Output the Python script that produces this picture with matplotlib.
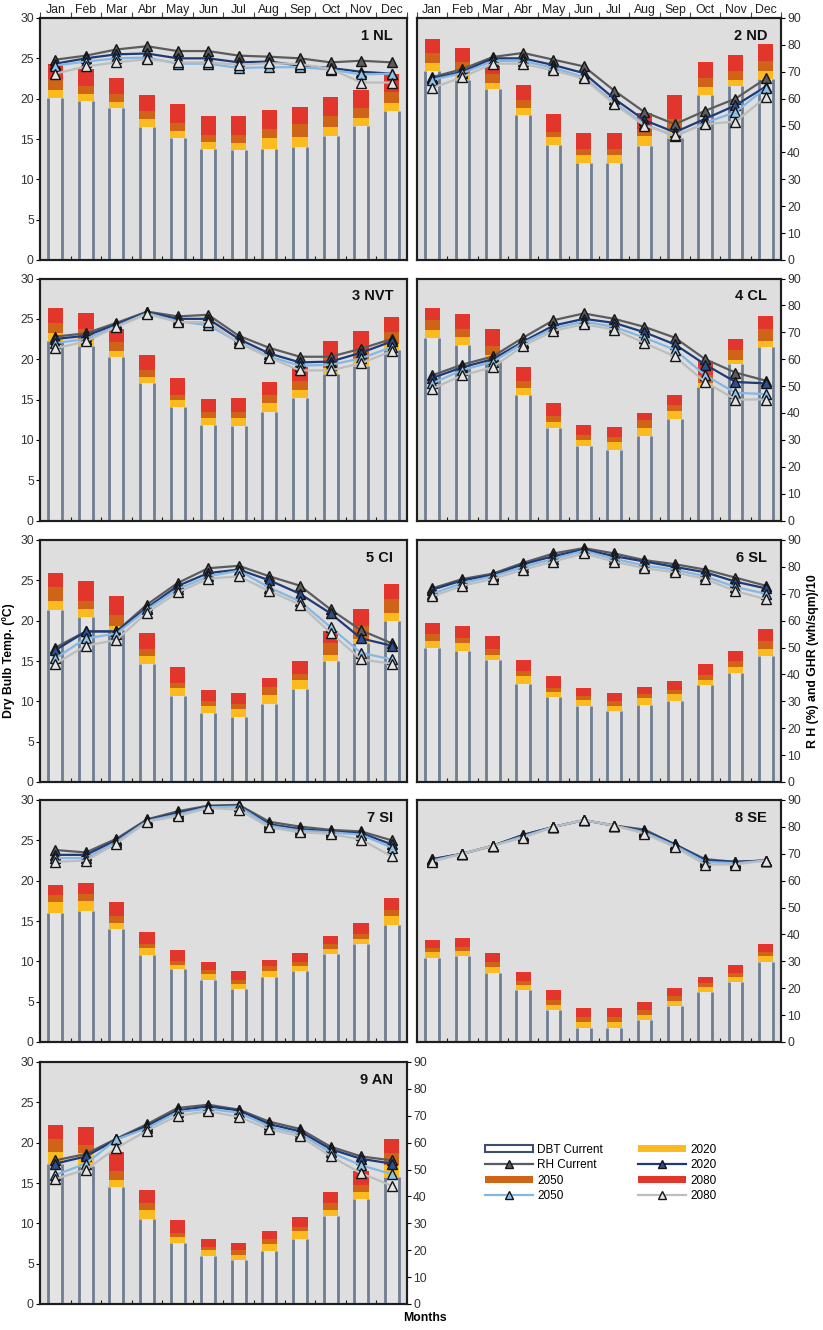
import matplotlib
matplotlib.use("Agg")
import matplotlib.pyplot as plt
from matplotlib.patches import Patch
from matplotlib.lines import Line2D
import numpy as np

plt.rcParams["font.family"] = ["Liberation Sans", "DejaVu Sans"]

MONTHS = ["Jan", "Feb", "Mar", "Abr", "May", "Jun", "Jul", "Aug", "Sep", "Oct", "Nov", "Dec"]
SCENARIOS = ["Current", "2020", "2050", "2080"]

# Dry bulb temperature (degC) per scenario: current, 2020, 2050, 2080
NL_DBT = [[20.1, 19.7, 18.8, 16.5, 15.1, 13.7, 13.6, 13.7, 14.0, 15.4, 16.6, 18.5],
          [21.1, 20.6, 19.6, 17.5, 16.0, 14.6, 14.5, 15.1, 15.3, 16.5, 17.6, 19.5],
          [22.4, 21.6, 20.6, 18.5, 17.0, 15.5, 15.5, 16.3, 16.8, 17.9, 18.8, 20.8],
          [24.3, 23.7, 22.5, 20.5, 19.4, 17.9, 17.9, 18.6, 19.0, 20.2, 21.1, 23.0]]
ND_DBT = [[23.4, 22.3, 21.2, 18.0, 14.2, 12.0, 12.0, 14.1, 15.1, 20.5, 21.6, 22.5],
          [24.4, 23.0, 21.9, 18.8, 15.2, 13.0, 13.0, 15.4, 16.3, 21.4, 22.3, 23.4],
          [25.6, 24.6, 23.1, 19.8, 15.9, 13.8, 13.8, 16.3, 17.5, 22.5, 23.4, 24.7],
          [27.4, 26.3, 24.1, 21.7, 18.1, 15.7, 15.7, 18.2, 20.5, 24.6, 25.4, 26.8]]
NVT_DBT = [[22.2, 21.6, 20.3, 17.0, 14.1, 11.9, 11.75, 13.4, 15.2, 18.2, 19.1, 21.1],
           [23.2, 22.4, 21.0, 17.8, 15.0, 12.7, 12.7, 14.6, 16.2, 18.9, 19.9, 21.9],
           [24.5, 23.8, 22.1, 18.7, 15.6, 13.4, 13.4, 15.6, 17.3, 20.1, 21.1, 23.4],
           [26.3, 25.7, 23.8, 20.5, 17.7, 15.1, 15.2, 17.2, 19.0, 22.3, 23.5, 25.2]]
CL_DBT = [[22.6, 21.8, 19.8, 15.5, 11.5, 9.2, 8.8, 10.5, 12.6, 16.5, 19.4, 21.5],
          [23.6, 22.8, 20.5, 16.4, 12.2, 10.0, 9.7, 11.5, 13.6, 17.0, 19.9, 22.3],
          [24.9, 23.8, 21.6, 17.3, 13.0, 10.6, 10.4, 12.4, 14.3, 18.0, 21.1, 23.8],
          [26.3, 25.6, 23.7, 19.0, 14.6, 11.9, 11.6, 13.3, 15.6, 19.8, 22.5, 25.3]]
CI_DBT = [[21.3, 20.5, 18.8, 14.6, 10.7, 8.6, 8.1, 9.7, 11.5, 15.0, 17.2, 19.9],
          [22.4, 21.5, 19.4, 15.6, 11.6, 9.4, 9.0, 10.8, 12.6, 15.7, 17.7, 20.9],
          [24.2, 22.5, 20.7, 16.5, 12.3, 10.0, 9.7, 11.8, 13.4, 17.2, 19.4, 22.7],
          [25.9, 24.9, 23.1, 18.5, 14.3, 11.4, 11.0, 12.9, 15.0, 18.7, 21.5, 24.5]]
SL_DBT = [[16.6, 16.2, 15.1, 12.2, 10.5, 9.4, 8.8, 9.5, 10.0, 12.0, 13.5, 15.6],
          [17.5, 17.2, 15.7, 13.1, 11.2, 10.2, 9.4, 10.4, 10.9, 12.7, 14.3, 16.5],
          [18.4, 17.9, 16.5, 13.8, 11.7, 10.7, 10.0, 10.9, 11.4, 13.3, 15.0, 17.5],
          [19.7, 19.3, 18.1, 15.1, 13.1, 11.7, 11.0, 11.8, 12.5, 14.6, 16.3, 19.0]]
SI_DBT = [[16.0, 16.2, 14.0, 10.8, 9.0, 7.7, 6.6, 8.1, 8.8, 10.9, 12.2, 14.5],
          [17.3, 17.5, 14.8, 11.6, 9.6, 8.4, 7.2, 8.8, 9.4, 11.5, 12.8, 15.6],
          [18.2, 18.3, 15.6, 12.2, 10.1, 8.9, 7.7, 9.4, 9.9, 12.1, 13.4, 16.4],
          [19.5, 19.7, 17.3, 13.6, 11.4, 9.9, 8.8, 10.2, 11.0, 13.1, 14.8, 17.9]]
SE_DBT = [[10.4, 10.6, 8.6, 6.5, 4.0, 1.7, 1.7, 2.7, 4.5, 6.2, 7.5, 9.9],
          [11.1, 11.3, 9.3, 7.1, 4.6, 2.5, 2.5, 3.4, 5.1, 6.8, 8.1, 10.6],
          [11.6, 11.8, 9.9, 7.5, 5.2, 3.1, 3.1, 4.0, 5.7, 7.3, 8.6, 11.2],
          [12.7, 12.9, 11.0, 8.7, 6.4, 4.2, 4.2, 4.9, 6.7, 8.0, 9.6, 12.2]]
AN_DBT = [[17.4, 17.1, 14.5, 10.5, 7.6, 5.9, 5.4, 6.6, 8.1, 10.9, 13.0, 15.7],
          [18.9, 18.7, 15.4, 11.6, 8.3, 6.7, 6.1, 7.4, 9.0, 11.6, 13.9, 17.2],
          [20.4, 19.7, 16.5, 12.5, 8.8, 7.1, 6.7, 8.0, 9.6, 12.5, 14.7, 18.7],
          [22.2, 21.9, 18.8, 14.1, 10.4, 8.1, 7.6, 9.0, 10.8, 13.9, 16.5, 20.5]]

# Relative humidity (%) per scenario: current, 2020, 2050, 2080
NL_RH = [[74.5, 76, 78.3, 79.5, 77.7, 77.7, 76, 75.6, 75, 73.5, 74.1, 73.5],
         [73, 75, 76.5, 76.8, 75, 75, 73.5, 73.8, 72.3, 71.4, 70, 69.3],
         [72.3, 73.8, 75, 75.3, 73, 73, 71.4, 71.7, 71.7, 70.8, 69, 69.3],
         [69.3, 72, 73.5, 74.7, 73.5, 73.5, 72.6, 73.2, 72.9, 71.1, 66, 66]]
ND_RH = [[68, 71, 75.5, 77, 74.5, 72, 63, 55, 50.5, 55.5, 60, 67.5],
         [67.5, 70, 75, 75, 72.5, 69.5, 60, 52, 47.5, 52.5, 57.5, 64.5],
         [67, 69.5, 74, 74, 71.5, 68, 58.5, 50.5, 46, 51, 55, 64],
         [64, 68, 73, 73, 70.5, 67.5, 58, 50, 46.5, 50.5, 51.5, 60.5]]
NVT_RH = [[68.4, 69.6, 73.5, 77.7, 75.9, 76.5, 68.7, 64.2, 60.9, 60.9, 63.9, 67.5],
          [67.5, 68.7, 72.9, 77.4, 75, 75, 67.5, 62.1, 58.8, 59.1, 62.4, 66.6],
          [66, 67.5, 72.3, 77.1, 74.1, 72.6, 66.3, 60.9, 57.6, 57.9, 60.3, 64.5],
          [64, 66.6, 72, 76.8, 73.8, 73.8, 66, 60.6, 55.8, 55.8, 58.5, 63]]
CL_RH = [[54, 58, 61, 68, 74.5, 77, 75, 72, 68, 60, 55, 52],
         [53, 57, 60, 66.5, 72.5, 75, 73.5, 70, 65.5, 58, 51.5, 51],
         [51, 56, 59, 66, 71.5, 74, 72, 68, 63.5, 54, 47.5, 47],
         [49, 54, 57, 65, 70.5, 73, 71, 66, 61, 51.5, 45, 45]]
CI_RH = [[50, 56, 56, 66, 74, 79.5, 80.4, 76.5, 73, 64.2, 56.4, 51.6],
         [49, 56, 56, 64.8, 72.9, 77.7, 79, 75, 70, 62.7, 53.4, 50.7],
         [46, 53.4, 55.2, 64.2, 71.7, 76.5, 78.6, 72.3, 67.2, 57.6, 48, 45.6],
         [44, 50.7, 52.8, 63, 70.5, 75.6, 76.5, 71, 66, 55.5, 45.6, 44]]
SL_RH = [[72, 75.5, 77.5, 81.5, 85, 87, 85, 82.5, 81, 79, 76, 73],
         [71.5, 75, 77, 81, 84, 86.5, 84, 82, 80, 78, 74.5, 72],
         [70, 74, 76.5, 80, 83, 86, 83, 80.5, 79, 76.5, 72.5, 70],
         [69, 73, 75.5, 79, 82, 85, 82, 79.5, 78, 75.5, 71, 68]]
SI_RH = [[71.4, 70.5, 75.6, 82.8, 85.8, 87.9, 88.2, 81.9, 80.1, 78.9, 78.3, 75],
         [69.6, 69.6, 75, 82.5, 85.2, 87.6, 87.9, 81, 79.2, 78.3, 77.7, 73.5],
         [68.4, 68.4, 74.4, 82.2, 84.6, 87.3, 87.6, 80.4, 78.6, 78, 77.1, 72.3],
         [67, 67.5, 73.8, 81.9, 84, 87, 86.4, 79.8, 78, 77.4, 75.3, 69]]
SE_RH = [[68, 70, 73, 77, 80, 82.5, 80.5, 79, 73.5, 68, 67, 67.5],
         [68, 70, 73, 77, 80, 82.5, 80.5, 78.5, 73.5, 67.5, 67, 67.5],
         [67.5, 70, 73, 76.5, 80, 82.5, 80.5, 78, 73, 67, 66.5, 67.5],
         [67, 70, 73, 76, 80, 82.5, 80.5, 77.5, 72.5, 66, 66, 67.5]]
AN_RH = [[53.4, 55.8, 61.5, 66.9, 72.9, 74.1, 72.3, 67.8, 65.1, 58.5, 54.9, 53.4],
         [52.2, 54.9, 61.2, 66.3, 72, 73.5, 72, 66.9, 64.2, 57.6, 54, 52.2],
         [48, 52.2, 61.2, 65.4, 71.4, 72.6, 71.1, 66, 63.3, 56.4, 51.6, 48.3],
         [46.5, 50, 58, 64.5, 70, 71.7, 69.6, 65, 62.4, 55, 48.6, 44]]

REGIONS = ["1 NL", "2 ND", "3 NVT", "4 CL", "5 CI", "6 SL", "7 SI", "8 SE", "9 AN"]
DBT = [NL_DBT, ND_DBT, NVT_DBT, CL_DBT, CI_DBT, SL_DBT, SI_DBT, SE_DBT, AN_DBT]
RH = [NL_RH, ND_RH, NVT_RH, CL_RH, CI_RH, SL_RH, SI_RH, SE_RH, AN_RH]

# styling
BG = "#dedede"
BAR_FACE = "#e4e4e4"
BAR_EDGE = "#6f7d92"
BAR_COLORS = {1: "#fbbb1e", 2: "#cf6418", 3: "#e2352b"}
LINE_COLORS = ["#5c5c5c", "#1f3a78", "#84b8e4", "#bdbdbd"]
MARKER_FACES = ["#5c5c5c", "#2b4f92", "#8ec2ee", "#e4e4e4"]
MARKER_EDGE = "#151515"
SPINE = "#1e1e1e"
TICK_TXT = "#333333"

W, H = 823, 1330
fig = plt.figure(figsize=(W / 100, H / 100), dpi=100)

COL_X = [(40, 407), (417, 781)]
ROW_TOP = [18, 278.5, 540, 800, 1062]
PANEL_H = 242
BAR_W = 0.46
x = np.arange(12)
bounds = np.arange(0.5, 11.0, 1.0)

for i, (name, dbt, rh) in enumerate(zip(REGIONS, DBT, RH)):
    r, c = divmod(i, 2)
    x0, x1 = COL_X[c]
    top = ROW_TOP[r]
    ax = fig.add_axes([x0 / W, 1 - (top + PANEL_H) / H, (x1 - x0) / W, PANEL_H / H])
    ax.set_facecolor(BG)
    ax.set_xlim(-0.5, 11.5)
    ax.set_ylim(0, 30)

    cur = np.asarray(dbt[0])
    # hollow current-climate bar: fill plus side outlines
    ax.bar(x, cur, width=BAR_W, color=BAR_FACE, linewidth=0, zorder=2)
    ax.vlines(x - BAR_W / 2, 0, cur, color=BAR_EDGE, lw=2.0, zorder=3)
    ax.vlines(x + BAR_W / 2, 0, cur, color=BAR_EDGE, lw=2.0, zorder=3)
    # future increments stacked over the current value, later scenarios behind
    for k in (3, 2, 1):
        fut = np.asarray(dbt[k])
        ax.bar(x, fut - cur, bottom=cur, width=BAR_W + 0.04, color=BAR_COLORS[k],
               linewidth=0, zorder=2)

    ax2 = ax.twinx()
    ax2.set_ylim(0, 90)
    for k in range(4):
        ax2.plot(x, rh[k], color=LINE_COLORS[k], lw=1.6, marker="^", ms=6.5,
                 mfc=MARKER_FACES[k], mec=MARKER_EDGE, mew=1.0, zorder=3 + k)

    # x ticks at month boundaries
    ax.set_xticks(bounds)
    ax.set_xticklabels([])
    ax.tick_params(axis="x", which="major", direction="in", length=3,
                   width=0.8, color=SPINE, bottom=True, top=False)
    if r == 0:
        sec = ax.secondary_xaxis("top")
        sec.set_xticks(np.arange(-0.5, 12.0, 1.0))
        sec.set_xticklabels([])
        sec.set_xticks(x, minor=True)
        sec.set_xticklabels(MONTHS, minor=True)
        sec.tick_params(which="major", direction="out", length=4, width=0.8, color="#444444")
        sec.tick_params(which="minor", length=0, labelsize=8.8, pad=1.5, labelcolor="#222222")
        sec.spines["top"].set_visible(False)

    show_left = (c == 0)
    show_right = (c == 1) or (i == 8)
    if show_left:
        ax.set_yticks(np.arange(0, 31, 5))
        ax.tick_params(axis="y", direction="out", length=3, width=0.8,
                       labelsize=8.8, labelcolor=TICK_TXT, pad=1.5)
    else:
        ax.set_yticks([])
    if show_right:
        ax2.set_yticks(np.arange(0, 91, 10))
        ax2.tick_params(axis="y", direction="out", length=3, width=0.8,
                        labelsize=8.8, labelcolor=TICK_TXT, pad=1.5)
    else:
        ax2.set_yticks([])

    for a in (ax, ax2):
        for s in a.spines.values():
            s.set_color(SPINE)
            s.set_linewidth(1.5)

    ax2.text(0.962, 0.955, name, transform=ax.transAxes, ha="right", va="top",
             fontsize=10.5, fontweight="bold", color="#111111", zorder=10)

    if i == 4:
        ax.set_ylabel("Dry Bulb Temp. (ºC)", fontsize=8.8, fontweight="bold", labelpad=4)
    if i == 5:
        ax2.set_ylabel("R H (%) and GHR (wh/sqm)/10", fontsize=8.8, fontweight="bold", labelpad=4)

fig.text(425 / W, 1 - 1318 / H, "Months", ha="center", va="center",
         fontsize=8.8, fontweight="bold")

# legend in the empty tenth slot
def rh_handle(k):
    return Line2D([], [], color=LINE_COLORS[k], lw=1.6, marker="^", ms=5.5,
                  mfc=MARKER_FACES[k], mec=MARKER_EDGE, mew=1.0)

handles = [Patch(facecolor="white", edgecolor="#3c4f72", linewidth=1.5),
           rh_handle(0),
           Patch(facecolor=BAR_COLORS[2]),
           rh_handle(2),
           Patch(facecolor=BAR_COLORS[1]),
           rh_handle(1),
           Patch(facecolor=BAR_COLORS[3]),
           rh_handle(3)]
labels = ["DBT Current", "RH Current", "2050", "2050", "2020", "2020", "2080", "2080"]
fig.legend(handles, labels, ncol=2, loc="center", bbox_to_anchor=(601 / W, 1 - 1173 / H),
           frameon=False, fontsize=8.5, handlelength=4.0, handleheight=0.6,
           columnspacing=3.0, labelspacing=0.3, handletextpad=0.4, borderpad=0)

fig.savefig("out.png", dpi=100, facecolor="white")
